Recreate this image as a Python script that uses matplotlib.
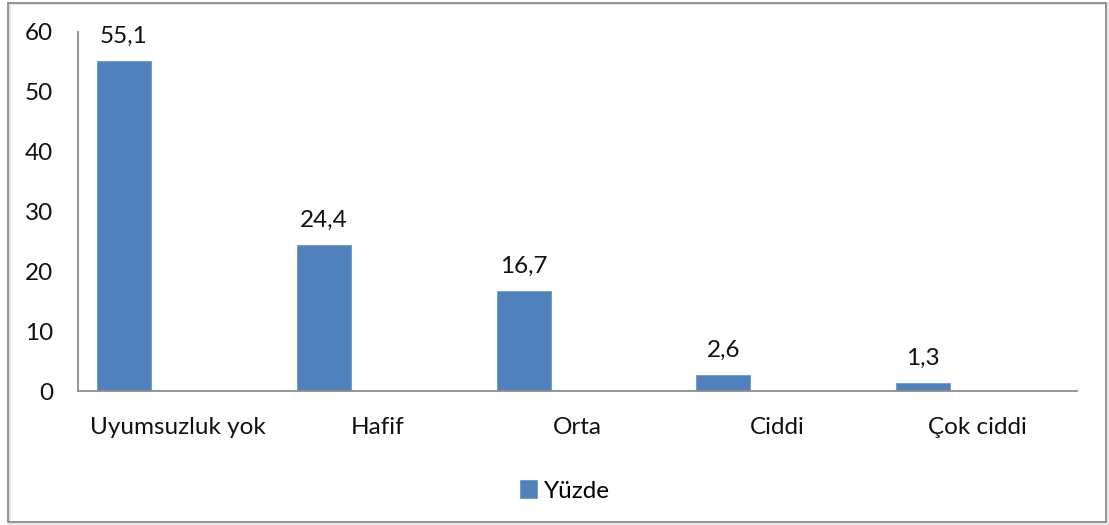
import matplotlib
matplotlib.use("Agg")
import matplotlib.pyplot as plt
from matplotlib.patches import Rectangle
import numpy as np

categories = ["Uyumsuzluk yok", "Hafif", "Orta", "Ciddi", "Çok ciddi"]
values = [55.1, 24.4, 16.7, 2.6, 1.3]
value_labels = ["55,1", "24,4", "16,7", "2,6", "1,3"]
series_name = "Yüzde"
yticks = [0, 10, 20, 30, 40, 50, 60]

plt.rcParams["font.family"] = ["Lato", "DejaVu Sans"]
FS = 17.5

W, H = 1109, 525
fig = plt.figure(figsize=(W / 100, H / 100), dpi=100)

# outer chart frame
fig.patches.append(Rectangle((9 / W, 1 - 524 / H), 1099 / W, 521 / H,
                             transform=fig.transFigure, fill=False,
                             edgecolor="#e6e6e6", linewidth=2.0, zorder=0))
fig.patches.append(Rectangle((8 / W, 1 - 522 / H), 1098 / W, 519 / H,
                             transform=fig.transFigure, fill=False,
                             edgecolor="#8c8c8c", linewidth=1.3, zorder=1))

left, right, top, bottom = 78, 1077, 32, 391
ax = fig.add_axes([left / W, 1 - bottom / H, (right - left) / W, (bottom - top) / H])

bar_color = "#4F81BD"
x = np.arange(len(categories))
bar_w = 0.27
bar_centers = x - 0.5 + 0.23
bars = ax.bar(bar_centers, values, width=bar_w, color=bar_color,
              edgecolor="#6d97c9", linewidth=0.6, label=series_name, zorder=2)

for bx, v, lab in zip(bar_centers, values, value_labels):
    ax.annotate(lab, (bx, v), xytext=(0, 25), textcoords="offset pixels",
                ha="center", va="center", fontsize=FS, color="#111111")

ax.set_xlim(-0.5, len(categories) - 0.5)
ax.set_ylim(0, 60)
ax.set_yticks(yticks)
ax.set_yticklabels([str(t) for t in yticks], fontsize=FS)
ax.set_xticks(x)
ax.set_xticklabels(categories, fontsize=FS)
ax.tick_params(axis="both", length=0, colors="#111111")
ax.tick_params(axis="y", pad=18)
ax.tick_params(axis="x", pad=19)

for s in ("top", "right"):
    ax.spines[s].set_visible(False)
for s in ("left", "bottom"):
    ax.spines[s].set_color("#8c8c8c")
    ax.spines[s].set_linewidth(1.3)

leg = fig.legend(handles=[bars], labels=[series_name], loc="center",
                 bbox_to_anchor=(565 / W, 1 - 491 / H), frameon=False,
                 fontsize=FS, handlelength=0.7, handleheight=0.7,
                 handletextpad=0.3)

fig.savefig("out.png", dpi=100)
